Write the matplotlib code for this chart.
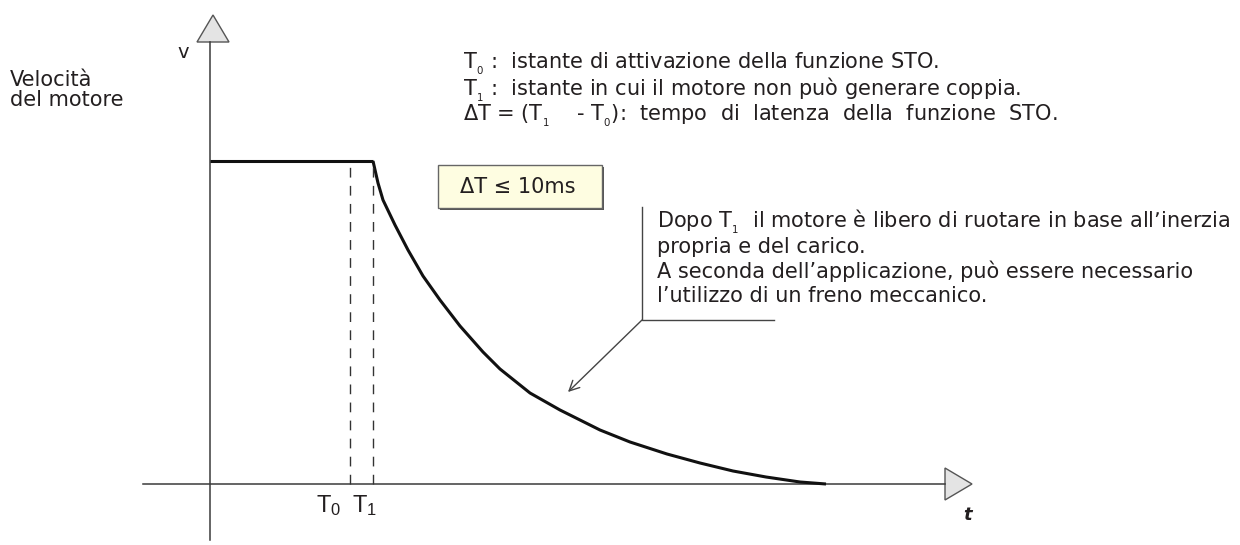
"""STO latency diagram: motor speed vs time after Safe Torque Off."""
import matplotlib
matplotlib.use("Agg")
import matplotlib.pyplot as plt
from matplotlib.patches import Polygon, Rectangle

# time / speed in drawing units (origin at the axes crossing)
t_flat = [0, 163]
v_flat = [323, 323]
t_decay = [163, 168, 173, 185, 198, 213, 230, 250, 273, 290, 320, 350, 390, 420,
           457, 490, 523, 556, 590, 616]
v_decay = [323, 301, 284, 259, 234, 208, 184, 158, 132, 115, 91, 74, 54, 42,
           30, 21, 13, 7, 2, 0]
T0 = 140
T1 = 163
t_labels = [r"$\mathregular{T_0}$", r"$\mathregular{T_1}$"]

S0 = r"$\mathregular{T_{_0}}$"
S1 = r"$\mathregular{T_{_1}}$"
legend_lines = [
    S0 + " :  istante di attivazione della funzione STO.",
    S1 + " :  istante in cui il motore non può generare coppia.",
    "ΔT = (" + S1 + "    - " + S0 + "):  tempo  di  latenza  della  funzione  STO.",
]
note_lines = [
    "Dopo " + S1 + "  il motore è libero di ruotare in base all’inerzia",
    "propria e del carico.",
    "A seconda dell’applicazione, può essere necessario",
    "l’utilizzo di un freno meccanico.",
]
box_text = "ΔT ≤ 10ms"
ylabel = "Velocità\ndel motore"

INK = "#231f20"
plt.rcParams.update({"font.family": ["DejaVu Sans"], "mathtext.default": "regular"})

fig = plt.figure(figsize=(12.4, 5.45), dpi=100)
ax = fig.add_axes([0, 0, 1, 1])
ax.set_xlim(-210, 1030)
ax.set_ylim(-61, 484)
ax.axis("off")

# axes with triangular arrow heads
ax.plot([0, 0], [-56, 442], color="#3a3a3a", lw=1.1)
ax.plot([-67, 735], [0, 0], color="#3a3a3a", lw=1.1)
ax.add_patch(Polygon([[-13, 442], [19, 442], [3, 469]], closed=True,
                     facecolor="#e4e4e4", edgecolor="#555555", lw=1.0))
ax.add_patch(Polygon([[735, 16], [735, -16], [762, 0]], closed=True,
                     facecolor="#e4e4e4", edgecolor="#555555", lw=1.0))
ax.text(-27, 431, "v", fontsize=14, color=INK, ha="center", va="center")
ax.text(758, -31, "t", fontsize=13, color=INK, ha="center", va="center",
        fontweight="bold", fontstyle="italic")
ax.text(-200, 394, ylabel, fontsize=15, color=INK, ha="left", va="center",
        linespacing=1.05)

# speed profile
ax.plot(t_flat, v_flat, color="#111111", lw=2.2, solid_capstyle="butt")
ax.plot(t_decay, v_decay, color="#111111", lw=2.2, solid_capstyle="butt",
        solid_joinstyle="round")
for tt in (T0, T1):
    ax.plot([tt, tt], [0, 323], color="#333333", lw=1.0, dashes=(7, 6))
for tx, lab in zip((T0 - 21, T1 - 8), t_labels):
    ax.text(tx, -28, lab, fontsize=17, color=INK, ha="center", va="baseline",
            family=["Liberation Sans Narrow", "Liberation Sans", "DejaVu Sans"])

# latency box with shadow
ax.add_patch(Rectangle((230, 274), 164, 43, facecolor="#555555", edgecolor="none"))
ax.add_patch(Rectangle((228, 276), 164, 43, facecolor="#fefde1",
                       edgecolor="#666666", lw=1.0))
ax.text(308, 297, box_text, fontsize=15, color=INK, ha="center", va="center")

# definitions
for i, line in enumerate(legend_lines):
    ax.text(253, 420 - 26 * i, line, fontsize=15, color=INK, ha="left", va="center")

# note with leader
ax.plot([432, 432, 564], [277, 164, 164], color="#444444", lw=1.0)
ax.annotate("", xy=(358, 92), xytext=(432, 164),
            arrowprops=dict(arrowstyle="->", color="#444444", lw=1.0,
                            mutation_scale=18, shrinkA=0, shrinkB=0))
for i, line in enumerate(note_lines):
    ax.text(447, 262 - 24.7 * i, line, fontsize=15, color=INK, ha="left", va="center")

fig.savefig("out.png", dpi=100)
